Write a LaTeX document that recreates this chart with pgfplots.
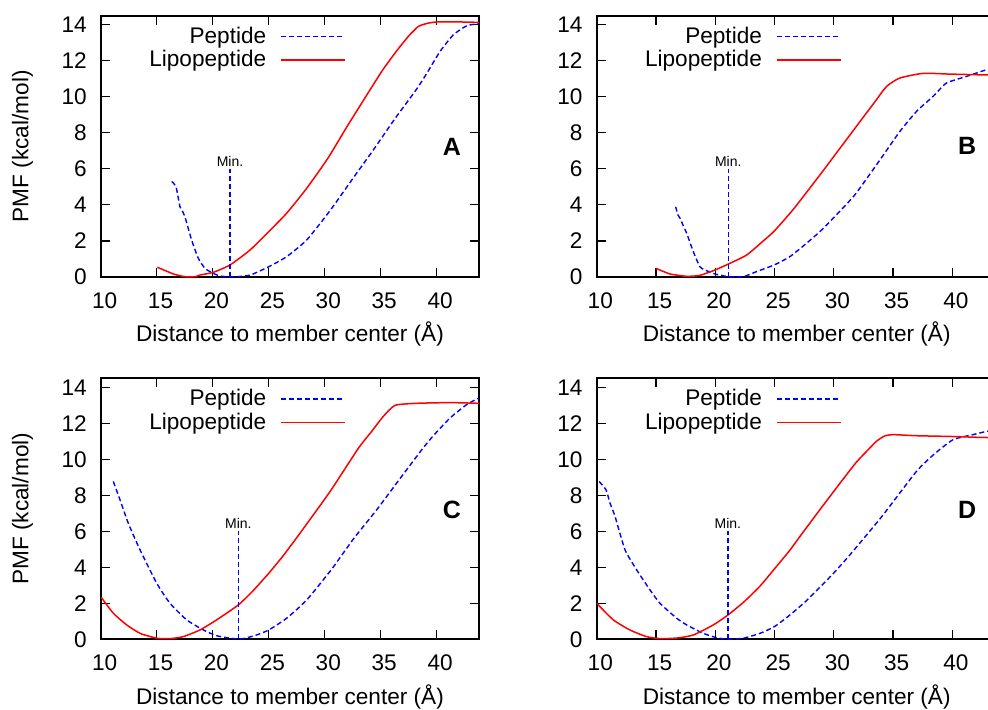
\documentclass[border=0pt]{standalone}
\usepackage{fontspec}
\setmainfont{Liberation Sans}
\usepackage{pgfplots}
\pgfplotsset{compat=1.18}
\definecolor{pepblue}{RGB}{0,0,255}
\definecolor{lipred}{RGB}{255,0,0}

\newcommand{\mainfont}{\fontsize{11.3}{13}\selectfont}

\tikzset{
  pep/.style={color=pepblue, line width=0.7pt, dash pattern=on 2.5pt off 1.5pt},
  lip/.style={color=lipred, line width=0.75pt},
  minlabel/.style={font=\fontsize{7}{8}\selectfont, anchor=south, inner sep=1.2pt},
  panellabel/.style={font=\bfseries\fontsize{12.5}{14}\selectfont},
}

\pgfplotsset{
  pmf/.style={
    scale only axis,
    anchor=south west,
    xmin=10, ymin=0, ymax=14.5,
    xtick={10,15,...,40}, ytick={0,2,...,14},
    tick align=inside,
    major tick length=4.5pt,
    axis line style={line width=0.85pt},
    every tick/.style={black, line width=0.55pt},
    /pgf/number format/assume math mode=true,
    tick label style={font=\mainfont, inner sep=0pt},
    xticklabel style={yshift=-7.7pt, xshift=1.8pt},
    yticklabel style={xshift=-6.9pt},
    xlabel={Distance to member center (Å)},
    xlabel style={font=\mainfont, at={(axis description cs:0.5,0)}, anchor=north, yshift=-22.3pt, inner sep=0pt},
    ylabel style={font=\mainfont, anchor=center, inner sep=0pt},
    legend style={draw=none, fill=none, at={(axis description cs:0,1)}, anchor=north east,
      xshift=122.35pt, yshift=-5.55pt, inner sep=0pt, outer sep=0pt,
      row sep=2pt, column sep=7pt, font=\mainfont, nodes={inner sep=0pt}},
    legend cell align=right,
    legend plot pos=right,
    legend image code/.code={\draw[##1] (0pt,0pt) -- (32pt,0pt);},
  },
  curve/.style={smooth, tension=0.35},
}

\begin{document}
\begin{tikzpicture}

% ---------- A ----------
\begin{axis}[pmf, at={(50.5pt,216pt)}, width=189pt, height=130.65pt, xmax=43.8,
  ylabel={PMF (kcal/mol)}, ylabel style={at={(axis description cs:-0.2077,0.5)}}]
\addplot[pep, curve] coordinates {
 (16.32,5.30) (16.7,5.02) (17.06,3.9) (17.2,3.75) (17.5,3.35) (18.1,2.06) (18.7,1.04)
 (19.3,0.48) (20.04,0.2) (20.64,0.06) (21.5,0.0) (22.4,0.03) (23.4,0.12) (25.0,0.57)
 (26.6,1.13) (28.4,2.06) (30.5,3.7) (32.5,5.45) (34.36,7.06) (36.3,8.8) (38.18,10.39)
 (39.13,11.3) (40.32,12.52) (41.51,13.44) (42.7,13.94) (43.8,14.06)};
\addlegendentry{Peptide}
\addplot[lip, curve] coordinates {
 (15.04,0.54) (16.47,0.17) (17.3,0.04) (17.9,0.0) (18.5,0.03) (18.85,0.11) (20.04,0.26)
 (21.54,0.67) (23.33,1.5) (25.0,2.52) (26.6,3.54) (28.4,4.93) (30.3,6.6) (32.0,8.35)
 (34.06,10.39) (35.2,11.5) (36.44,12.55) (37.48,13.35) (38.37,13.9) (39.2,14.08)
 (40.0,14.15) (41.5,14.16) (43.8,14.13)};
\addlegendentry{Lipopeptide}
\addplot[pep, forget plot] coordinates {(21.54,0) (21.54,6)};
\node[minlabel] at (axis cs:21.54,6) {Min.};
\node[panellabel] at (axis cs:41.37,7.2) {A};
\end{axis}

% ---------- B ----------
\begin{axis}[pmf, at={(298.35pt,216pt)}, width=200pt, height=130.65pt, xmax=43.75]
\addplot[pep, curve] coordinates {
 (16.66,3.9) (16.85,3.45) (17.03,3.26) (17.3,2.85) (17.59,2.43) (18.15,1.41) (18.71,0.57)
 (19.27,0.35) (19.98,0.17) (21.1,0.02) (22.37,0.02) (23.49,0.3) (24.98,0.67) (26.3,1.13)
 (27.7,1.87) (28.83,2.52) (29.95,3.26) (31.78,4.56) (33.9,6.5) (35.57,8.07) (37.0,9.2)
 (38.38,10.02) (39.5,10.76) (41.2,11.13) (42.88,11.5) (43.75,11.6)};
\addlegendentry{Peptide}
\addplot[lip, curve] coordinates {
 (15.0,0.48) (16.18,0.17) (17.6,0.04) (18.7,0.09) (19.98,0.39) (21.24,0.76) (22.65,1.22)
 (24.05,2.0) (24.98,2.55) (26.58,3.75) (28.84,5.67) (31.5,8.0) (33.5,9.75) (34.45,10.57)
 (35.57,11.04) (37.54,11.3) (39.79,11.26) (42.3,11.22) (43.75,11.2)};
\addlegendentry{Lipopeptide}
\addplot[pep, forget plot] coordinates {(21.1,0) (21.1,6)};
\node[minlabel] at (axis cs:21.1,6) {Min.};
\node[panellabel] at (axis cs:41.25,7.3) {B};
\end{axis}

% ---------- C ----------
\begin{axis}[pmf, at={(50.5pt,34.85pt)}, width=189pt, height=130.5pt, xmax=43.8,
  ylabel={PMF (kcal/mol)}, ylabel style={at={(axis description cs:-0.2077,0.5)}}]
\addplot[pep, curve] coordinates {
 (11.1,8.77) (11.7,7.75) (12.44,6.45) (13.49,4.97) (14.98,3.12) (16.17,2.0) (17.66,1.08)
 (19.15,0.52) (20.34,0.2) (21.83,0.04) (22.73,0.04) (23.9,0.24) (25.0,0.52) (26.6,1.17)
 (28.4,2.19) (30.63,3.9) (32.6,5.6) (34.66,7.2) (36.7,8.9) (38.68,10.53) (39.7,11.3)
 (41.2,12.29) (42.7,13.04) (43.8,13.41)};
\addlegendentry{Peptide}
\addplot[lip, curve] coordinates {
 (10.0,2.35) (11.1,1.45) (12.3,0.8) (13.5,0.33) (15.0,0.06) (16.2,0.04) (17.36,0.15)
 (18.85,0.52) (20.34,1.08) (22.28,1.91) (23.6,2.7) (25.0,3.67) (26.3,4.65) (27.8,5.9)
 (30.48,8.21) (33.0,10.6) (34.2,11.55) (35.25,12.39) (36.3,13.0) (38.2,13.11)
 (41.2,13.15) (43.8,13.11)};
\addlegendentry{Lipopeptide}
\addplot[pep, forget plot] coordinates {(22.28,0) (22.28,6)};
\node[minlabel] at (axis cs:22.28,6) {Min.};
\node[panellabel] at (axis cs:41.37,7.2) {C};
\end{axis}

% ---------- D ----------
\begin{axis}[pmf, at={(298.35pt,34.85pt)}, width=200pt, height=130.5pt, xmax=43.75]
\addplot[pep, curve] coordinates {
 (10.2,8.77) (10.79,8.3) (11.12,7.57) (11.55,6.82) (12.39,4.97) (13.37,3.86) (14.5,2.74)
 (15.34,2.0) (16.75,1.17) (17.59,0.8) (19.0,0.33) (20.12,0.09) (21.07,0.0) (22.37,0.06)
 (23.77,0.33) (24.98,0.7) (26.3,1.35) (27.7,2.15) (29.81,3.55) (31.36,4.69) (34.03,6.8)
 (36.98,9.33) (38.5,10.3) (40.07,11.09) (41.75,11.37) (42.88,11.55) (43.75,11.62)};
\addlegendentry{Peptide}
\addplot[lip, curve] coordinates {
 (10.0,2.0) (11.4,1.08) (12.8,0.52) (14.2,0.15) (15.34,0.04) (16.75,0.07) (18.15,0.24)
 (19.84,0.8) (21.07,1.35) (22.37,2.05) (23.77,2.95) (24.98,3.9) (26.3,4.95) (27.14,5.71)
 (28.83,7.2) (30.5,8.65) (31.92,9.85) (32.9,10.53) (33.6,11.0) (34.3,11.3) (35.0,11.37)
 (36.98,11.31) (39.8,11.27) (42.3,11.22) (43.75,11.2)};
\addlegendentry{Lipopeptide}
\addplot[pep, forget plot] coordinates {(21.07,0) (21.07,6)};
\node[minlabel] at (axis cs:21.07,6) {Min.};
\node[panellabel] at (axis cs:41.25,7.2) {D};
\end{axis}

\pgfresetboundingbox
\useasboundingbox (0,0) rectangle (494pt,354.5pt);
\end{tikzpicture}
\end{document}
